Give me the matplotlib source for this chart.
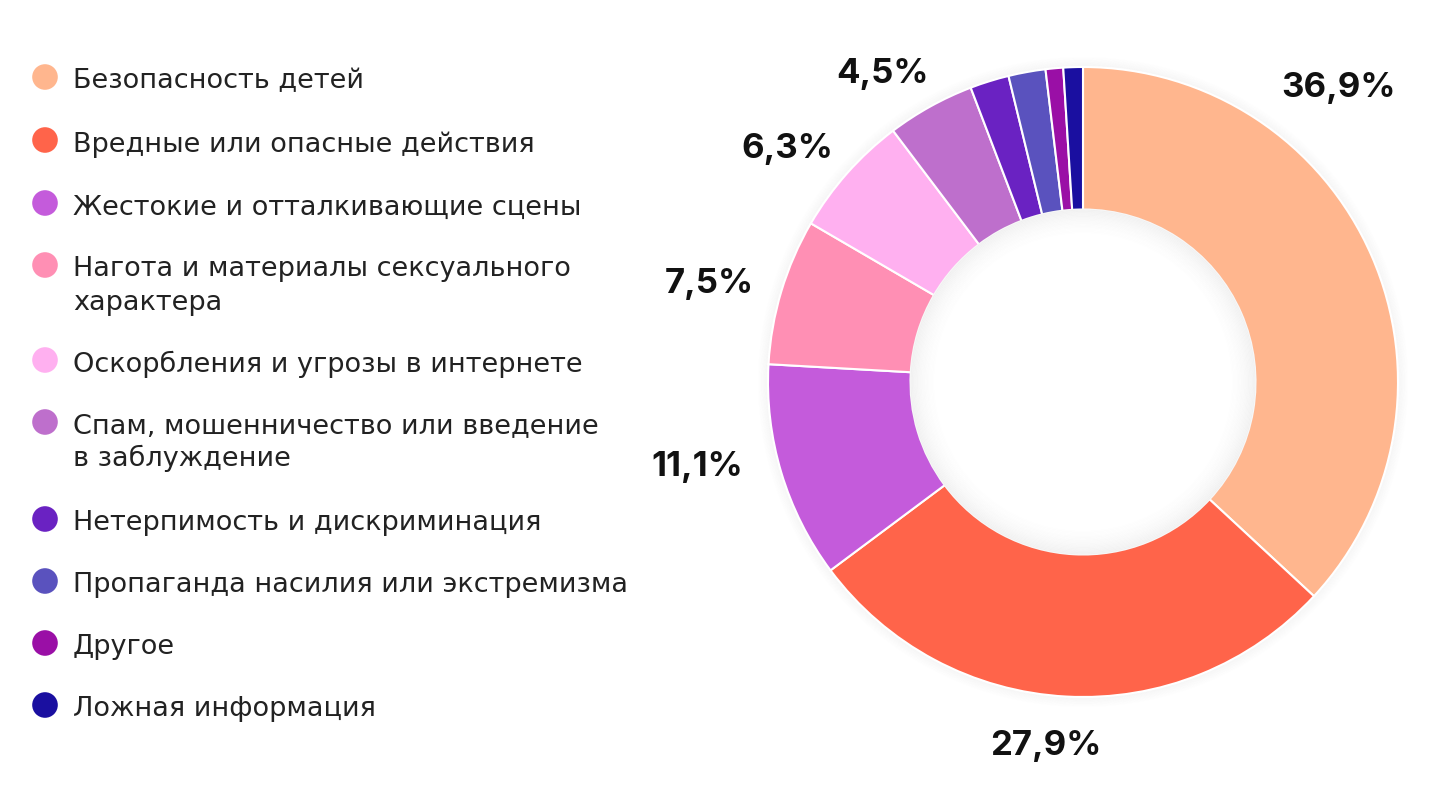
import numpy as np
import matplotlib.pyplot as plt
from matplotlib.patches import Circle

plt.rcParams['font.family'] = ['Inter', 'DejaVu Sans']

# Данные
categories = [
    'Безопасность детей',
    'Вредные или опасные действия',
    'Жестокие и отталкивающие сцены',
    'Нагота и материалы сексуального\nхарактера',
    'Оскорбления и угрозы в интернете',
    'Спам, мошенничество или введение\nв заблуждение',
    'Нетерпимость и дискриминация',
    'Пропаганда насилия или экстремизма',
    'Другое',
    'Ложная информация',
]
values = [36.9, 27.9, 11.1, 7.5, 6.3, 4.5, 2.0, 1.9, 0.9, 1.0]
shown_labels = ['36,9%', '27,9%', '11,1%', '7,5%', '6,3%', '4,5%', '', '', '', '']
colors = ['#FFB68E', '#FF644A', '#C45BDB', '#FF8FB4', '#FFB0F0',
          '#BE6FCC', '#6A22C2', '#5A52BE', '#9A0FA6', '#1A0FA0']

# положение подписей: (угол от вершины по часовой, радиус в долях R)
label_pos = [(40.7, 1.244), (185.9, 1.149), (258.1, 1.25), (285.2, 1.229),
             (308.7, 1.202), (327.2, 1.177), None, None, None, None]

W, H = 1440, 790
fig = plt.figure(figsize=(W / 100, H / 100), dpi=100)
fig.patch.set_facecolor('white')

# Кольцевая диаграмма: центр (1083, 382) px, радиус 315 px
cx, cy, R = 1083, 382, 315
half = 400
ax = fig.add_axes([(cx - half) / W, (H - cy - half) / H, 2 * half / W, 2 * half / H])

inner = 172.5 / R

# мягкая тень вокруг кольца
for i in range(14):
    ax.add_patch(Circle((0, 0), 1 + i * 0.0025, facecolor='none',
                        edgecolor='#000000', lw=1.2, alpha=0.018 * (1 - i / 14), zorder=0))

wedges, _ = ax.pie(values, colors=colors, startangle=90, counterclock=False,
                   radius=1, wedgeprops=dict(width=1 - inner, edgecolor='white', linewidth=1.5))

# тень внутри отверстия
for i in range(22):
    ax.add_patch(Circle((0, 0), inner - i * 0.004, facecolor='none',
                        edgecolor='#000000', lw=1.6, alpha=0.03 * (1 - i / 22) ** 1.5, zorder=3))

ax.set_xlim(-half / R, half / R)
ax.set_ylim(-half / R, half / R)
ax.set_aspect('equal')
ax.axis('off')

# подписи процентов (центр цифр; 12.5 px = половина высоты цифр)
for lab, pos in zip(shown_labels, label_pos):
    if not lab:
        continue
    ang, rr = pos
    a = np.deg2rad(ang)
    x, y = rr * np.sin(a), rr * np.cos(a) - 12.5 / R
    ax.text(x, y, lab, ha='center', va='baseline', fontsize=25,
            fontweight='bold', color='#111111')

# Легенда
lax = fig.add_axes([0, 0, 1, 1])
lax.set_xlim(0, W)
lax.set_ylim(H, 0)
lax.axis('off')
legend_y = [77, 140, 203, 265, 360, 422, 519, 581, 643, 705]
for lab, c, y in zip(categories, colors, legend_y):
    lax.scatter([45], [y], s=340, color=c, edgecolors='none')
    for k, line in enumerate(lab.split('\n')):
        lax.text(73, y + 11.5 + 33 * k, line, ha='left', va='baseline', fontsize=19.5,
                 color='#222222', family='DejaVu Sans')

fig.savefig('out.png', dpi=100, facecolor='white')
